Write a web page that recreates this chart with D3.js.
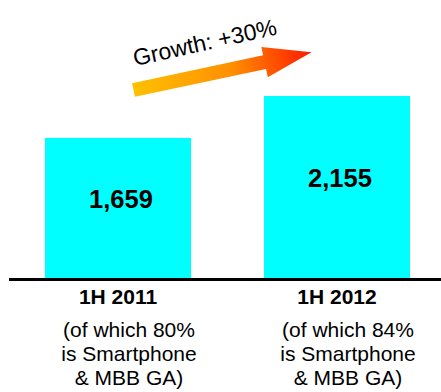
<!DOCTYPE html>
<html>
<head>
<meta charset="utf-8">
<script src="https://cdn.jsdelivr.net/npm/d3@7/dist/d3.min.js"></script>
<style>
  html, body { margin: 0; padding: 0; background: #fff; }
  svg { display: block; font-family: Arial, "Liberation Sans", Helvetica, sans-serif; }
</style>
</head>
<body>
<svg id="chart" width="441" height="392"></svg>
<script>
// Shipments by half-year
const periods = ["1H 2011", "1H 2012"];
const shipments = [1659, 2155];
const shareSmartphoneMBB = [80, 84];
const growthLabel = "Growth: +30%";

const svg = d3.select("#chart");
const W = 441, H = 392;
const baseline = 278;

const x = d3.scaleBand()
  .domain(periods)
  .range([45, 410])
  .paddingInner(1 / 3)
  .paddingOuter(0);

const y = d3.scaleLinear()
  .domain([0, d3.max(shipments)])
  .range([baseline, 96]);

const data = periods.map((p, i) => ({ period: p, value: shipments[i], share: shareSmartphoneMBB[i] }));

// bars
svg.append("g").selectAll("rect")
  .data(data)
  .join("rect")
  .attr("x", d => x(d.period))
  .attr("y", d => y(d.value))
  .attr("width", x.bandwidth())
  .attr("height", d => y(0) - y(d.value))
  .attr("fill", "#00FFFF");

// value labels inside bars
const fmt = d3.format(",");
svg.append("g").selectAll("text")
  .data(data)
  .join("text")
  .attr("x", d => x(d.period) + x.bandwidth() / 2 + 3)
  .attr("y", d => y(d.value / 2))
  .attr("text-anchor", "middle")
  .attr("font-size", 25.5)
  .attr("font-weight", "bold")
  .attr("fill", "#000")
  .text(d => fmt(d.value));

// baseline axis
const xAxis = d3.axisBottom(x).tickSize(0).tickFormat("");
const axisG = svg.append("g")
  .attr("transform", `translate(0,${baseline + 1.5})`)
  .call(xAxis);
axisG.select(".domain").remove();
axisG.append("line")
  .attr("x1", 9).attr("x2", W)
  .attr("stroke", "#000")
  .attr("stroke-width", 3);

// category labels
svg.append("g").selectAll("text")
  .data(data)
  .join("text")
  .attr("x", d => x(d.period) + x.bandwidth() / 2)
  .attr("y", 304)
  .attr("text-anchor", "middle")
  .attr("font-size", 21)
  .attr("font-weight", "bold")
  .attr("fill", "#000")
  .text(d => d.period);

// share notes under the category labels
const notes = svg.append("g").selectAll("text")
  .data(data)
  .join("text")
  .attr("text-anchor", "middle")
  .attr("font-size", 21)
  .attr("fill", "#000");
notes.each(function (d) {
  const cx = x(d.period) + x.bandwidth() / 2 + 11;
  const lines = [`(of which ${d.share}%`, "is Smartphone", "& MBB GA)"];
  d3.select(this).selectAll("tspan")
    .data(lines)
    .join("tspan")
    .attr("x", cx)
    .attr("y", (l, i) => 337 + i * 24)
    .text(l => l);
});

// growth arrow
const defs = svg.append("defs");
const grad = defs.append("linearGradient")
  .attr("id", "growthGrad")
  .attr("gradientUnits", "userSpaceOnUse")
  .attr("x1", 0).attr("y1", 0).attr("x2", 182).attr("y2", 0);
grad.append("stop").attr("offset", 0).attr("stop-color", "#FFC000");
grad.append("stop").attr("offset", 0.55).attr("stop-color", "#FF9000");
grad.append("stop").attr("offset", 1).attr("stop-color", "#FF1A00");

const shaftLen = 134, headLen = 48, shaftHalf = 7, headHalf = 15.5;
const arrow = d3.path();
arrow.moveTo(0, -shaftHalf);
arrow.lineTo(shaftLen, -shaftHalf);
arrow.lineTo(shaftLen, -headHalf);
arrow.lineTo(shaftLen + headLen, 0);
arrow.lineTo(shaftLen, headHalf);
arrow.lineTo(shaftLen, shaftHalf);
arrow.lineTo(0, shaftHalf);
arrow.closePath();

svg.append("g")
  .attr("transform", "translate(133.5,90) rotate(-12)")
  .append("path")
  .attr("d", arrow.toString())
  .attr("fill", "url(#growthGrad)");

svg.append("text")
  .attr("transform", "translate(135,66) rotate(-12.5)")
  .attr("font-size", 23)
  .attr("fill", "#000")
  .text(growthLabel);
</script>
</body>
</html>
